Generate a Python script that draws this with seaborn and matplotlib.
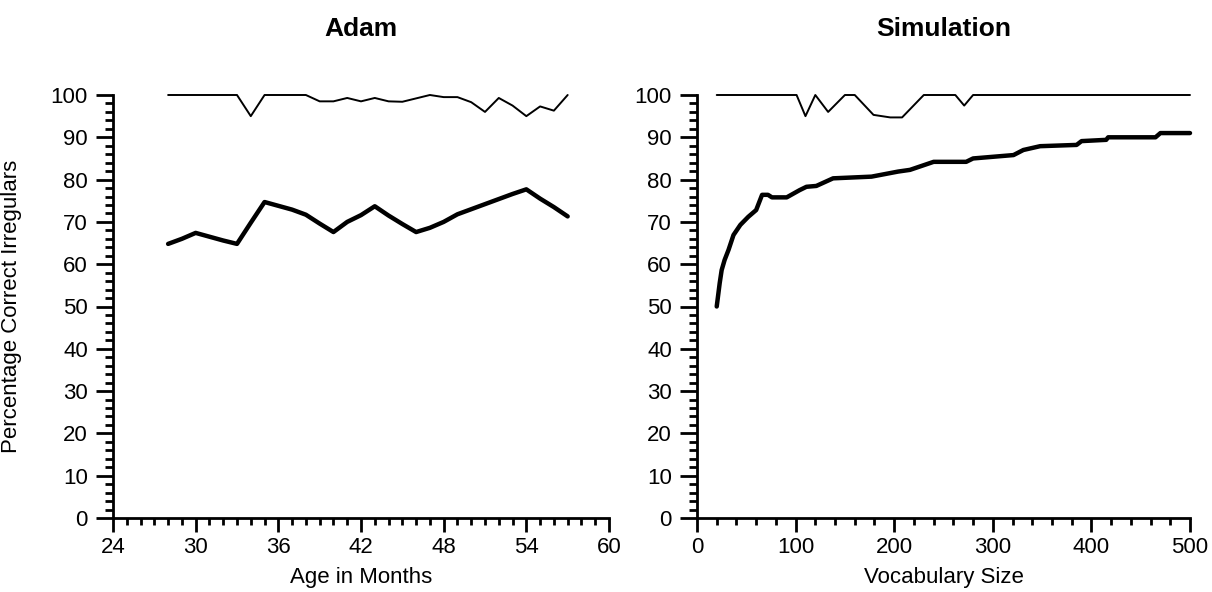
import matplotlib
matplotlib.use("Agg")
import matplotlib.pyplot as plt
from matplotlib.ticker import MultipleLocator
import seaborn as sns
import pandas as pd

##############################################################
# Datos
##############################################################

# Adam: edad en meses
adam_months = [28, 29, 30, 31, 32, 33, 34, 35, 36, 37, 38, 39, 40, 41, 42,
               43, 44, 45, 46, 47, 48, 49, 50, 51, 52, 53, 54, 55, 56, 57]
# linea fina (arriba)
adam_thin = [100, 100, 100, 100, 100, 100, 95, 100, 100, 100, 100, 98.5, 98.5, 99.3, 98.5,
             99.3, 98.5, 98.4, 99.2, 100, 99.5, 99.5, 98.3, 96, 99.3, 97.5, 95, 97.3, 96.3, 100]
# linea gruesa
adam_thick = [64.8, 66, 67.4, 66.5, 65.6, 64.8, 69.8, 74.7, 73.8, 72.9, 71.7, 69.6, 67.6, 70, 71.6,
              73.7, 71.5, 69.5, 67.6, 68.6, 70, 71.8, 73, 74.2, 75.4, 76.6, 77.7, 75.5, 73.5, 71.3]

# Simulacion: tamano del vocabulario
sim_vocab_thin = [20, 101, 110, 120, 133, 150, 160, 179, 196, 208, 230, 262, 271, 280, 500]
sim_thin = [100, 100, 95, 100, 96, 100, 100, 95.3, 94.7, 94.7, 100, 100, 97.5, 100, 100]

sim_vocab_thick = [20, 23, 25, 28, 32, 37, 44, 52, 60, 66, 72, 76, 91, 104, 111, 121, 138, 177,
                   204, 216, 240, 273, 280, 321, 331, 348, 385, 390, 415, 417, 465, 470, 500]
sim_thick = [50, 55.5, 58.6, 61, 63.4, 66.9, 69.3, 71.2, 72.8, 76.4, 76.4, 75.8, 75.8, 77.5,
             78.3, 78.5, 80.3, 80.7, 81.9, 82.3, 84.2, 84.2, 85, 85.8, 87, 87.9, 88.2, 89.1,
             89.4, 90, 90, 91, 91]

titles = ["Adam", "Simulation"]
xlabels = ["Age in Months", "Vocabulary Size"]
ylabel = "Percentage Correct Irregulars"

##############################################################
# Grafica
##############################################################

sns.set_style("ticks", {"text.color": "black", "axes.labelcolor": "black",
                        "xtick.color": "black", "ytick.color": "black",
                        "axes.edgecolor": "black"})
plt.rcParams['font.family'] = ['Liberation Sans', 'DejaVu Sans']

fig = plt.figure(figsize=(12.12, 5.92), dpi=100)
ax1 = fig.add_axes([113 / 1212, 1 - 518 / 592, 496 / 1212, 423 / 592])
ax2 = fig.add_axes([697 / 1212, 1 - 518 / 592, 493 / 1212, 423 / 592])

df_adam = pd.DataFrame({"mes": adam_months, "fina": adam_thin, "gruesa": adam_thick})
df_sim_thin = pd.DataFrame({"vocab": sim_vocab_thin, "val": sim_thin})
df_sim_thick = pd.DataFrame({"vocab": sim_vocab_thick, "val": sim_thick})

sns.lineplot(data=df_adam, x="mes", y="fina", ax=ax1, color="black", lw=1.4, clip_on=False)
sns.lineplot(data=df_adam, x="mes", y="gruesa", ax=ax1, color="black", lw=3.2, clip_on=False)
sns.lineplot(data=df_sim_thin, x="vocab", y="val", ax=ax2, color="black", lw=1.4, clip_on=False)
sns.lineplot(data=df_sim_thick, x="vocab", y="val", ax=ax2, color="black", lw=3.2, clip_on=False)

ax1.set_xlim(24, 60)
ax1.xaxis.set_major_locator(MultipleLocator(6))
ax1.xaxis.set_minor_locator(MultipleLocator(1))
ax2.set_xlim(0, 500)
ax2.xaxis.set_major_locator(MultipleLocator(100))
ax2.xaxis.set_minor_locator(MultipleLocator(20))

for i, ax in enumerate([ax1, ax2]):
    ax.set_ylim(0, 100)
    ax.yaxis.set_major_locator(MultipleLocator(10))
    ax.yaxis.set_minor_locator(MultipleLocator(2))
    sns.despine(ax=ax)
    for s in ["left", "bottom"]:
        ax.spines[s].set_linewidth(2)
        ax.spines[s].set_color("black")
    ax.tick_params(axis="x", which="major", length=10, width=2, pad=4, labelsize=16,
                   color="black", labelcolor="black")
    ax.tick_params(axis="x", which="minor", length=5, width=2, color="black")
    ax.tick_params(axis="y", which="major", length=12, width=2, pad=6, labelsize=16,
                   color="black", labelcolor="black")
    ax.tick_params(axis="y", which="minor", length=6, width=2, color="black")
    ax.set_xlabel(xlabels[i], fontsize=16, labelpad=6, color="black")
    ax.set_ylabel("")
    ax.set_title(titles[i], fontsize=19, fontweight="bold", y=1.155, va="center", pad=0,
                 color="black")

ax1.set_ylabel(ylabel, fontsize=16, color="black")
ax1.yaxis.set_label_coords(-0.183, 0.5)

fig.savefig("out.png", dpi=100)
